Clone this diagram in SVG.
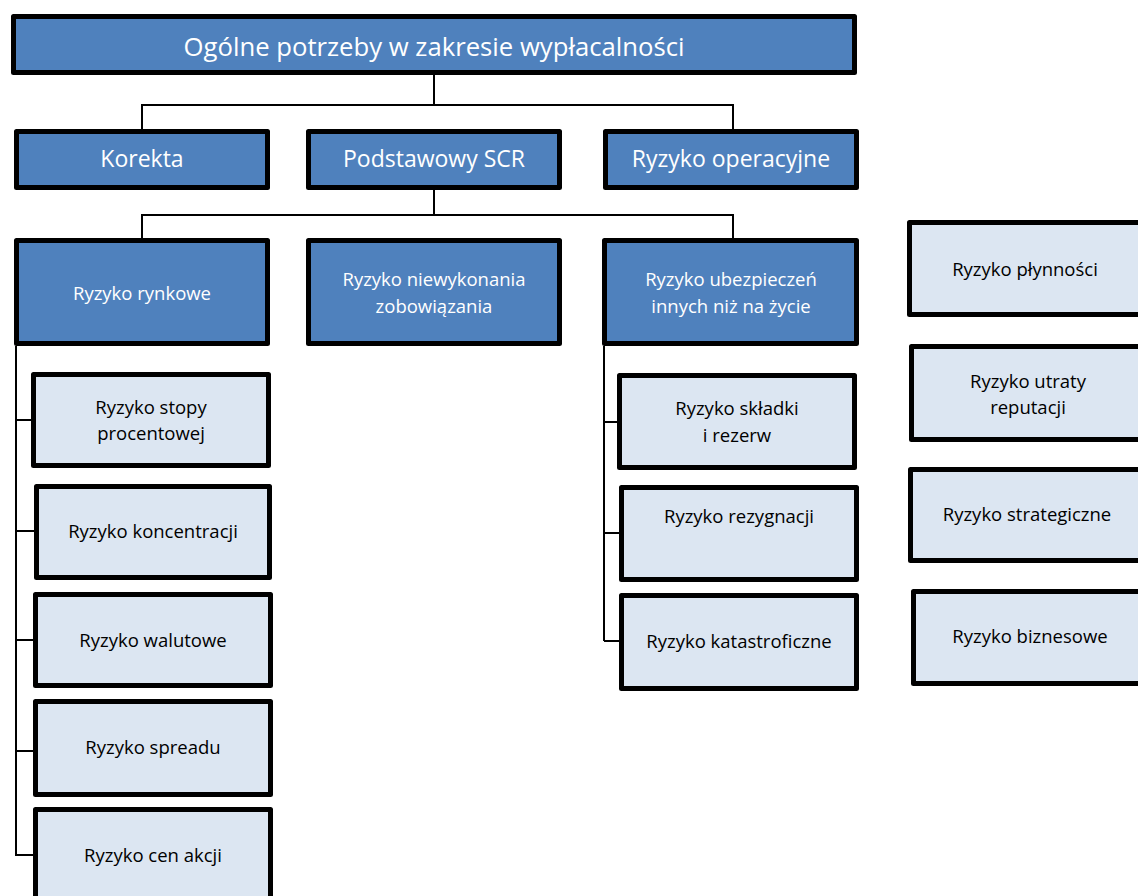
<svg xmlns="http://www.w3.org/2000/svg" width="1138" height="896" viewBox="0 0 1138 896">
<style>
.box{stroke:#000;stroke-width:5;stroke-linejoin:round}
.dark{fill:#4F81BD}
.light{fill:#DCE6F2}
.wt{fill:#fff;font-family:"Open Sans","Liberation Sans",sans-serif;text-anchor:middle}
.bt{fill:#000;font-family:"Open Sans","Liberation Sans",sans-serif;text-anchor:middle;font-size:18.5px}
.big{font-size:25.7px}
.mid{font-size:23px}
.sm{font-size:18.5px}
.conn{fill:none;stroke:#000;stroke-width:2}
</style>
<rect width="1138" height="896" fill="#fff"/>
<g id="connectors" class="conn">
<path d="M434 75 V105 M142 129 V105 H733 V129"/>
<path d="M434 190 V215 M142 238 V215 H733 V238"/>
<path d="M16 346 V856 M16 420 H31 M16 531 H34 M16 640 H33 M16 751 H33 M16 855 H33"/>
<path d="M604 346 V641 M604 422 H617 M604 533 H619 M604 641 H619"/>
</g>
<g id="root"><rect class="box dark" x="13.5" y="16.5" width="841" height="56"/><text class="wt big" x="434" y="56">Ogólne potrzeby w zakresie wypłacalności</text></g>
<g id="korekta"><rect class="box dark" x="16.5" y="131.5" width="251" height="56"/><text class="wt mid" x="142" y="167">Korekta</text></g>
<g id="scr"><rect class="box dark" x="308.5" y="131.5" width="251" height="56"/><text class="wt mid" x="434" y="167">Podstawowy SCR</text></g>
<g id="operacyjne"><rect class="box dark" x="605.5" y="131.5" width="251" height="56"/><text class="wt mid" x="731" y="167">Ryzyko operacyjne</text></g>
<g id="rynkowe"><rect class="box dark" x="16.5" y="240.5" width="251" height="103"/><text class="wt sm" x="142" y="300">Ryzyko rynkowe</text></g>
<g id="niewykonania"><rect class="box dark" x="308.5" y="240.5" width="251" height="103"/><text class="wt sm" x="434" y="286">Ryzyko niewykonania</text><text class="wt sm" x="434" y="313">zobowiązania</text></g>
<g id="ubezpieczen"><rect class="box dark" x="604.5" y="240.5" width="252" height="103"/><text class="wt sm" x="731" y="286">Ryzyko ubezpieczeń</text><text class="wt sm" x="731" y="313">innych niż na życie</text></g>
<g id="stopy"><rect class="box light" x="33.5" y="374.5" width="235" height="91"/><text class="bt" x="151" y="414">Ryzyko stopy</text><text class="bt" x="151" y="440">procentowej</text></g>
<g id="koncentracji"><rect class="box light" x="36.5" y="486.5" width="233" height="91"/><text class="bt" x="153" y="538">Ryzyko koncentracji</text></g>
<g id="walutowe"><rect class="box light" x="35.5" y="594.5" width="235" height="91"/><text class="bt" x="153" y="647">Ryzyko walutowe</text></g>
<g id="spreadu"><rect class="box light" x="35.5" y="701.5" width="235" height="93"/><text class="bt" x="153" y="754">Ryzyko spreadu</text></g>
<g id="akcji"><rect class="box light" x="35.5" y="809.5" width="235" height="93"/><text class="bt" x="153" y="862">Ryzyko cen akcji</text></g>
<g id="skladki"><rect class="box light" x="619.5" y="375.5" width="235" height="92"/><text class="bt" x="737" y="415">Ryzyko składki</text><text class="bt" x="737" y="442">i rezerw</text></g>
<g id="rezygnacji"><rect class="box light" x="621.5" y="487.5" width="235" height="92"/><text class="bt" x="739" y="523">Ryzyko rezygnacji</text></g>
<g id="katastroficzne"><rect class="box light" x="621.5" y="595.5" width="235" height="93"/><text class="bt" x="739" y="648">Ryzyko katastroficzne</text></g>
<g id="plynnosci"><rect class="box light" x="909.5" y="222.5" width="231" height="92"/><text class="bt" x="1025" y="276">Ryzyko płynności</text></g>
<g id="reputacji"><rect class="box light" x="911.5" y="346.5" width="231" height="93"/><text class="bt" x="1028" y="388">Ryzyko utraty</text><text class="bt" x="1028" y="414">reputacji</text></g>
<g id="strategiczne"><rect class="box light" x="910.5" y="469.5" width="231" height="91"/><text class="bt" x="1027" y="521">Ryzyko strategiczne</text></g>
<g id="biznesowe"><rect class="box light" x="913.5" y="591.5" width="231" height="92"/><text class="bt" x="1030" y="643">Ryzyko biznesowe</text></g>
</svg>
